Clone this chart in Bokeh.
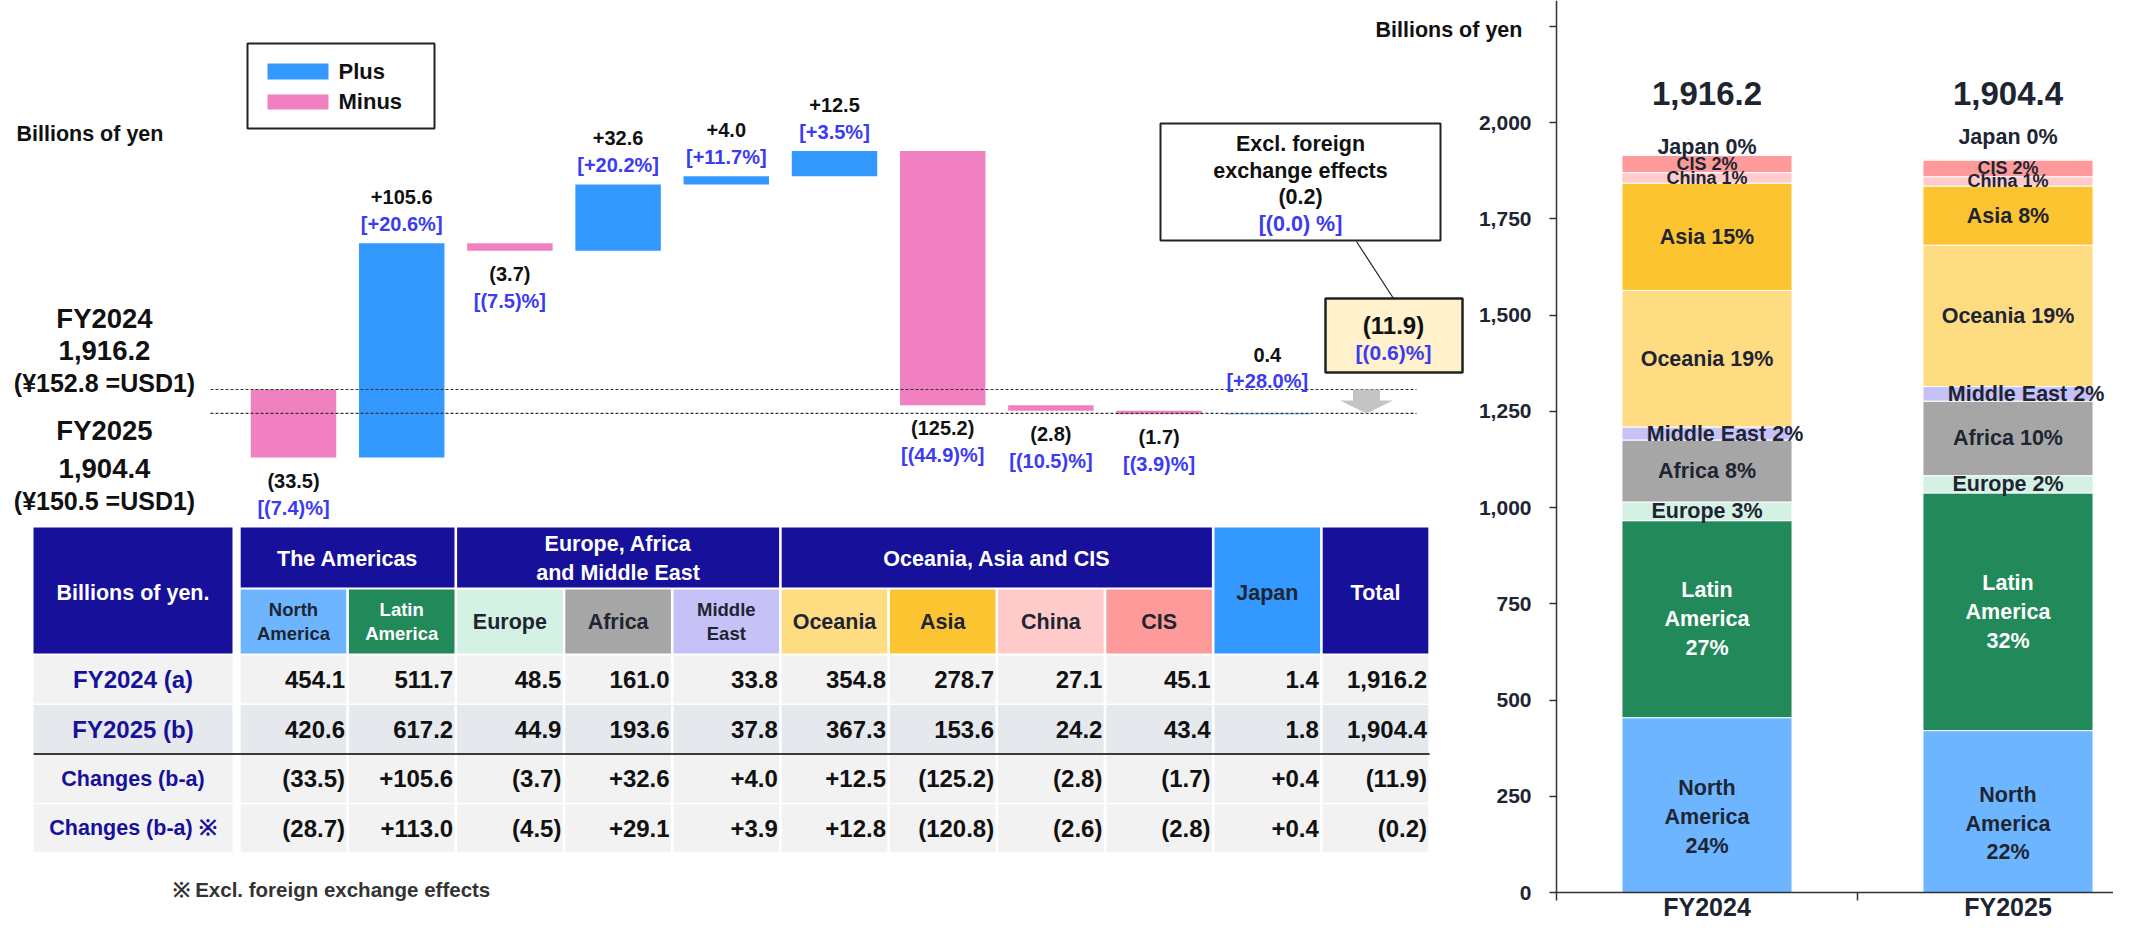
import numpy as np
from bokeh.plotting import figure
from bokeh.models import (Range1d, ColumnDataSource, LinearAxis, FixedTicker,
                          NumeralTickFormatter)
from bokeh.core.properties import value
from bokeh.embed import file_html
from bokeh.resources import INLINE

# ------------------------------------------------------------------ data
regions = ["North America", "Latin America", "Europe", "Africa", "Middle East",
           "Oceania", "Asia", "China", "CIS", "Japan"]
region_headers = ["North\nAmerica", "Latin\nAmerica", "Europe", "Africa", "Middle\nEast",
                  "Oceania", "Asia", "China", "CIS", "Japan"]
years = ["FY2024", "FY2025"]
fy2024 = [454.1, 511.7, 48.5, 161.0, 33.8, 354.8, 278.7, 27.1, 45.1, 1.4]
fy2025 = [420.6, 617.2, 44.9, 193.6, 37.8, 367.3, 153.6, 24.2, 43.4, 1.8]
changes = [-33.5, 105.6, -3.7, 32.6, 4.0, 12.5, -125.2, -2.8, -1.7, 0.4]
changes_ex_fx = [-28.7, 113.0, -4.5, 29.1, 3.9, 12.8, -120.8, -2.6, -2.8, 0.4]
changes_pct = [-7.4, 20.6, -7.5, 20.2, 11.7, 3.5, -44.9, -10.5, -3.9, 28.0]
year_totals = [1916.2, 1904.4]
total_change = -11.9
total_change_pct = -0.6
total_change_ex_fx = -0.2
total_change_ex_fx_pct = 0.0
yen_per_usd = [152.8, 150.5]
region_groups = [("The Americas", 0, 1), ("Europe, Africa\nand Middle East", 2, 4),
                 ("Oceania, Asia and CIS", 5, 8)]
table_rows = ["FY2024 (a)", "FY2025 (b)", "Changes (b-a)", "Changes (b-a) \u203b"]
right_ticks = [0, 250, 500, 750, 1000, 1250, 1500, 1750, 2000]
right_minor_ticks = [2250]

# ------------------------------------------------------------------ style
FONT = "Liberation Sans"
NAVY = "#16109A"
PLUS, MINUS = "#3399FF", "#F080C0"
PCT_BLUE = "#3B3BF2"
DARK = "#1E2532"
BLACK = "#111111"
region_colors = ["#6DB6FF", "#22895A", "#D4F2E3", "#A6A6A6", "#C6C1F6",
                 "#FEDC82", "#FDC431", "#FFCACA", "#FF9A9A", "#3399FF"]
header_text_colors = [DARK, "white", DARK, DARK, DARK, DARK, DARK, DARK, DARK, DARK]

# ------------------------------------------------------------------ geometry
W, H, M = 2113, 921, 0          # figure size, offset of the figure in the picture


def wx(px):                      # waterfall / table x (category index)
    return (px - 293.0) / 108.2


WF_PPU = 2.03                    # px per billion yen in waterfall


def wy(py):
    return year_totals[0] + (389.0 - py) / WF_PPU


TB_PPU = 49.6                    # px per table row


def ty(py):
    return (py - 679.0) / TB_PPU


R_PPU = 0.385                    # px per billion yen in stacked chart


def rxx(px):
    return (px - 1556.0) / 301.0


def ryy(py):
    return (892.0 - py) / R_PPU


p = figure(width=W, height=H,
           x_range=Range1d(wx(M), wx(M + W)), y_range=Range1d(wy(M + H), wy(M)),
           x_axis_type=None, y_axis_type=None, toolbar_location=None,
           output_backend="svg", min_border=0, outline_line_color=None)
p.extra_x_ranges = {"rx": Range1d(rxx(M), rxx(M + W))}
p.extra_y_ranges = {"ry": Range1d(ryy(M + H), ryy(M)),
                    "tbl": Range1d(ty(M + H), ty(M))}


def label(xs, ys, texts, size, color=BLACK, align="center", baseline="middle",
          xr=None, yr=None, lh=1.18):
    data = dict(x=list(xs), y=list(ys), text=list(texts))
    kw = {}
    if isinstance(color, (list, tuple)):
        data["tc"] = list(color)
        kw["text_color"] = "tc"
    else:
        kw["text_color"] = color
    if isinstance(size, (list, tuple)):
        data["ts"] = [f"{s}px" for s in size]
        kw["text_font_size"] = "ts"
    else:
        kw["text_font_size"] = value(f"{size}px")
    if xr:
        kw["x_range_name"] = xr
    if yr:
        kw["y_range_name"] = yr
    p.text(x="x", y="y", text="text", source=ColumnDataSource(data),
           text_font=value(FONT), text_font_style=value("bold"),
           text_align=align, text_baseline=baseline, text_line_height=lh, **kw)


def fmt_chg(v):
    return f"+{v:,.1f}" if v > 0 else f"({-v:,.1f})"


def fmt_pct(v):
    return f"[+{v:.1f}%]" if v > 0 else f"[({-v:.1f})%]"


# ------------------------------------------------------------------ waterfall
idx = np.arange(len(regions))
chg = np.array(changes)
ends = year_totals[0] + np.cumsum(chg)
starts = ends - chg
bottoms = np.minimum(starts, ends)
tops = np.maximum(starts, ends)
wf_colors = [PLUS if c > 0 else MINUS for c in changes]
p.vbar(x=idx, bottom=bottoms, top=tops, width=0.79, fill_color=wf_colors, line_color=None)

wf_val_text = [fmt_chg(c) for c in changes]
wf_val_text[-1] = f"{changes[-1]:.1f}"
val_y, pct_y = [], []
for i, c in enumerate(changes):
    if c > 0:
        if tops[i] >= year_totals[0]:
            val_y.append(tops[i] + 46 / WF_PPU)
            pct_y.append(tops[i] + 19 / WF_PPU)
        else:
            val_y.append(year_totals[0] + 35 / WF_PPU)
            pct_y.append(year_totals[0] + 9 / WF_PPU)
    else:
        val_y.append(bottoms[i] - 23 / WF_PPU)
        pct_y.append(bottoms[i] - 50 / WF_PPU)
label(idx, val_y, wf_val_text, 20, BLACK)
label(idx, pct_y, [fmt_pct(v) for v in changes_pct], 20, PCT_BLUE)

# reference dashed lines for the two totals
p.segment(x0=[wx(210)] * 2, x1=[wx(1416)] * 2, y0=year_totals, y1=year_totals,
          line_color="#333333", line_width=1.2, line_dash="3 2")

# down arrow between the two totals
xa = wx(1366)
sh, hh = 13.5 / 108.2, 26.5 / 108.2
hb = wy(400)
p.patch(x=[xa - sh, xa + sh, xa + sh, xa + hh, xa, xa - hh, xa - sh],
        y=[year_totals[0], year_totals[0], hb, hb, year_totals[1], hb, hb],
        fill_color="#C4C4C4", line_color=None)

# left labels
label([wx(16)], [wy(133)], ["Billions of yen"], 21.5, BLACK, align="left")
for j, (yr_name, ys) in enumerate(zip(years, [(318, 350, 382), (430, 468, 500)])):
    label([wx(104)] * 3, [wy(v) for v in ys],
          [yr_name, f"{year_totals[j]:,.1f}", f"(\u00a5{yen_per_usd[j]} =USD1)"],
          [27.5, 27.5, 25], BLACK)

# legend (manual)
p.quad(left=[wx(247)], right=[wx(434)], top=[wy(43)], bottom=[wy(128)],
       fill_color="white", line_color="#222222", line_width=2)
p.quad(left=[wx(267)] * 2, right=[wx(328)] * 2, top=[wy(63), wy(94)],
       bottom=[wy(79), wy(109)], fill_color=[PLUS, MINUS], line_color=None)
label([wx(338)] * 2, [wy(71), wy(101)], ["Plus", "Minus"], 22, BLACK, align="left")

# excl. FX box
p.quad(left=[wx(1160)], right=[wx(1440)], top=[wy(123)], bottom=[wy(240)],
       fill_color="white", line_color="#222222", line_width=2)
label([wx(1300)] * 4, [wy(143), wy(170), wy(196), wy(223)],
      ["Excl. foreign", "exchange effects", fmt_chg(total_change_ex_fx),
       f"[({abs(total_change_ex_fx_pct):.1f}) %]"],
      21.5, [BLACK, BLACK, BLACK, PCT_BLUE])
p.line(x=[wx(1356), wx(1393)], y=[wy(241), wy(298)], line_color="#222222", line_width=1.2)

# total change box
p.quad(left=[wx(1325)], right=[wx(1462)], top=[wy(298)], bottom=[wy(372)],
       fill_color="#FFF2CC", line_color="#222222", line_width=2.5)
label([wx(1393)] * 2, [wy(325), wy(352)], [fmt_chg(total_change), fmt_pct(total_change_pct)],
      [24, 21], [BLACK, PCT_BLUE])

# ------------------------------------------------------------------ table
GAPX = 2.6 / 108.2
L0, L1 = wx(33), wx(232)
ncol = len(regions) + 1  # + Total


def cl(i):
    return i - 0.5 + GAPX / 2


def cr(i):
    return i + 0.5 - GAPX / 2


hl, hr, ht, hbm, hc = [], [], [], [], []


def cell(left, right, top_px, bot_px, color):
    hl.append(left); hr.append(right); ht.append(ty(top_px)); hbm.append(ty(bot_px)); hc.append(color)


cell(L0, L1, 527, 653, NAVY)
for name, a, b in region_groups:
    cell(cl(a), cr(b), 527, 587, NAVY)
for i in range(9):
    cell(cl(i), cr(i), 589, 653, region_colors[i])
cell(cl(9), cr(9), 527, 653, region_colors[9])
cell(cl(10), cr(10), 527, 653, NAVY)

row_bg = ["#F2F2F2", "#E5E9EE", "#F2F2F2", "#F2F2F2"]
RH = 48.0 / TB_PPU
for r in range(len(table_rows)):
    hl.append(L0); hr.append(L1); ht.append(r - RH / 2); hbm.append(r + RH / 2); hc.append(row_bg[r])
    for i in range(ncol):
        hl.append(cl(i)); hr.append(cr(i)); ht.append(r - RH / 2); hbm.append(r + RH / 2); hc.append(row_bg[r])
p.quad(left=hl, right=hr, top=ht, bottom=hbm, fill_color=hc, line_color=None, y_range_name="tbl")

p.line(x=[L0, cr(10) + GAPX / 2], y=[1.5, 1.5], line_color="#3A3A3A", line_width=2,
       y_range_name="tbl")

# header texts
label([(L0 + L1) / 2], [ty(592)], ["Billions of yen."], 21.5, "white", yr="tbl")
label([(a + b) / 2 for _, a, b in region_groups], [ty(558)] * 3,
      [g[0] for g in region_groups], 21.5, "white", yr="tbl")
label(list(range(9)), [ty(621)] * 9, region_headers[:9],
      [18.5 if "\n" in t else 21.5 for t in region_headers[:9]],
      header_text_colors[:9], yr="tbl")
label([9, 10], [ty(592)] * 2, [region_headers[9], "Total"], 21.5, [DARK, "white"], yr="tbl")

# row texts
label([(L0 + L1) / 2] * 4, [0, 1, 2, 3], table_rows, [24, 24, 21.5, 21.5], NAVY, yr="tbl")
row_vals = [fy2024 + [year_totals[0]], fy2025 + [year_totals[1]],
            changes + [total_change], changes_ex_fx + [total_change_ex_fx]]
tx, tyv, tt = [], [], []
for r, vals in enumerate(row_vals):
    for i, v in enumerate(vals):
        tx.append(cr(i) - 0.012)
        tyv.append(r)
        tt.append(f"{v:,.1f}" if r < 2 else fmt_chg(v))
label(tx, tyv, tt, 24, BLACK, align="right", yr="tbl")

label([wx(172)], [ty(889)], ["\u203b Excl. foreign exchange effects"], 20.5, "#333333",
      align="left", yr="tbl")

# ------------------------------------------------------------------ stacked chart
sx, sb, st, sc = [], [], [], []
lx, ly, lt, lc, ls = [], [], [], [], []
for j, vals in enumerate([fy2024, fy2025]):
    v = np.array(vals)
    cum = np.cumsum(v)
    bot = cum - v
    tot = year_totals[j]
    for k in range(len(regions)):
        sx.append(j + 0.5); sb.append(bot[k]); st.append(cum[k]); sc.append(region_colors[k])
        pct = round(vals[k] / tot * 100)
        if k <= 1:
            txt = f"{region_headers[k]}\n{pct}%"
        else:
            txt = f"{regions[k]} {pct}%"
        yc = (bot[k] + cum[k]) / 2
        xc = j + 0.5
        if k == 0:
            yc -= 12 / R_PPU
        if regions[k] == "Middle East":
            xc += 18 / 301.0
        if regions[k] == "Japan":
            yc = cum[k] + [8, 22][j] / R_PPU
        lx.append(xc); ly.append(yc); lt.append(txt)
        lc.append("white" if k == 1 else DARK)
        ls.append(18 if regions[k] in ("China", "CIS") else 21.5)

p.vbar(x=sx, bottom=sb, top=st, width=0.565, fill_color=sc, line_color="white",
       line_width=1, x_range_name="rx", y_range_name="ry")
label(lx, ly, lt, ls, lc, xr="rx", yr="ry", lh=1.2)
label([j + 0.5 for j in range(len(years))], [ryy(93)] * 2,
      [f"{t:,.1f}" for t in year_totals], 33, DARK, xr="rx", yr="ry")
label([rxx(1375)], [ryy(29)], ["Billions of yen"], 21.5, BLACK, align="left",
      xr="rx", yr="ry")

yax = LinearAxis(x_range_name="rx", y_range_name="ry", fixed_location=0,
                 bounds=(0, ryy(M)),
                 ticker=FixedTicker(ticks=right_ticks, minor_ticks=right_minor_ticks),
                 formatter=NumeralTickFormatter(format="0,0"))
xax = LinearAxis(x_range_name="rx", y_range_name="ry", fixed_location=0,
                 bounds=(0, rxx(M + W)),
                 ticker=FixedTicker(ticks=[j + 0.5 for j in range(len(years))],
                                    minor_ticks=list(range(len(years) + 1))),
                 major_label_overrides={j + 0.5: y for j, y in enumerate(years)})
for ax in (yax, xax):
    ax.axis_line_color = "#333333"
    ax.axis_line_width = 1.5
    ax.major_tick_line_color = "#333333"
    ax.major_tick_line_width = 1.5
    ax.minor_tick_line_color = "#333333"
    ax.minor_tick_line_width = 1.5
    ax.major_tick_in = 0
    ax.minor_tick_in = 0
    ax.major_label_text_font = FONT
    ax.major_label_text_font_style = "bold"
    ax.major_label_text_color = DARK
yax.major_tick_out = 7
yax.minor_tick_out = 7
yax.major_label_text_font_size = "21px"
yax.major_label_standoff = 18
xax.major_tick_out = 0
xax.major_tick_line_color = None
xax.minor_tick_out = 8
xax.major_label_text_font_size = "25px"
xax.major_label_standoff = -8
p.add_layout(yax, "left")
p.add_layout(xax, "below")

open("out.html", "w").write(file_html(p, INLINE))
